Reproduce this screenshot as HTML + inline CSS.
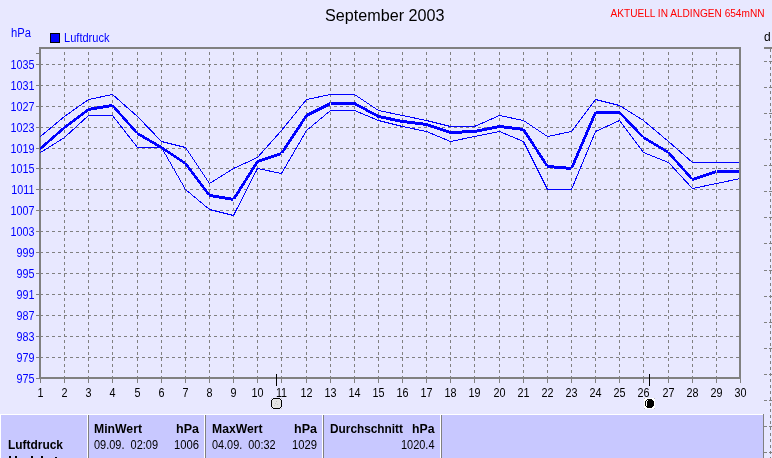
<!DOCTYPE html>
<html><head><meta charset="utf-8"><style>
html,body{margin:0;padding:0;background:#E8E8FF;width:772px;height:458px;overflow:hidden}
svg{position:absolute;left:0;top:0;will-change:transform}
text{font-family:"Liberation Sans",sans-serif}
</style></head><body>
<svg width="772" height="458" viewBox="0 0 772 458">
<g shape-rendering="crispEdges">
<line x1="40" y1="64.5" x2="739" y2="64.5" stroke="#808080" stroke-dasharray="3 3"/>
<line x1="40" y1="85.5" x2="739" y2="85.5" stroke="#808080" stroke-dasharray="3 3"/>
<line x1="40" y1="106.5" x2="739" y2="106.5" stroke="#808080" stroke-dasharray="3 3"/>
<line x1="40" y1="127.5" x2="739" y2="127.5" stroke="#808080" stroke-dasharray="3 3"/>
<line x1="40" y1="148.5" x2="739" y2="148.5" stroke="#808080" stroke-dasharray="3 3"/>
<line x1="40" y1="168.5" x2="739" y2="168.5" stroke="#808080" stroke-dasharray="3 3"/>
<line x1="40" y1="189.5" x2="739" y2="189.5" stroke="#808080" stroke-dasharray="3 3"/>
<line x1="40" y1="210.5" x2="739" y2="210.5" stroke="#808080" stroke-dasharray="3 3"/>
<line x1="40" y1="231.5" x2="739" y2="231.5" stroke="#808080" stroke-dasharray="3 3"/>
<line x1="40" y1="252.5" x2="739" y2="252.5" stroke="#808080" stroke-dasharray="3 3"/>
<line x1="40" y1="273.5" x2="739" y2="273.5" stroke="#808080" stroke-dasharray="3 3"/>
<line x1="40" y1="294.5" x2="739" y2="294.5" stroke="#808080" stroke-dasharray="3 3"/>
<line x1="40" y1="315.5" x2="739" y2="315.5" stroke="#808080" stroke-dasharray="3 3"/>
<line x1="40" y1="336.5" x2="739" y2="336.5" stroke="#808080" stroke-dasharray="3 3"/>
<line x1="40" y1="357.5" x2="739" y2="357.5" stroke="#808080" stroke-dasharray="3 3"/>
<line x1="64.5" y1="379" x2="64.5" y2="49" stroke="#808080" stroke-dasharray="3 3"/>
<line x1="88.5" y1="379" x2="88.5" y2="49" stroke="#808080" stroke-dasharray="3 3"/>
<line x1="112.5" y1="379" x2="112.5" y2="49" stroke="#808080" stroke-dasharray="3 3"/>
<line x1="137.5" y1="379" x2="137.5" y2="49" stroke="#808080" stroke-dasharray="3 3"/>
<line x1="161.5" y1="379" x2="161.5" y2="49" stroke="#808080" stroke-dasharray="3 3"/>
<line x1="185.5" y1="379" x2="185.5" y2="49" stroke="#808080" stroke-dasharray="3 3"/>
<line x1="209.5" y1="379" x2="209.5" y2="49" stroke="#808080" stroke-dasharray="3 3"/>
<line x1="233.5" y1="379" x2="233.5" y2="49" stroke="#808080" stroke-dasharray="3 3"/>
<line x1="257.5" y1="379" x2="257.5" y2="49" stroke="#808080" stroke-dasharray="3 3"/>
<line x1="281.5" y1="379" x2="281.5" y2="49" stroke="#808080" stroke-dasharray="3 3"/>
<line x1="306.5" y1="379" x2="306.5" y2="49" stroke="#808080" stroke-dasharray="3 3"/>
<line x1="330.5" y1="379" x2="330.5" y2="49" stroke="#808080" stroke-dasharray="3 3"/>
<line x1="354.5" y1="379" x2="354.5" y2="49" stroke="#808080" stroke-dasharray="3 3"/>
<line x1="378.5" y1="379" x2="378.5" y2="49" stroke="#808080" stroke-dasharray="3 3"/>
<line x1="402.5" y1="379" x2="402.5" y2="49" stroke="#808080" stroke-dasharray="3 3"/>
<line x1="426.5" y1="379" x2="426.5" y2="49" stroke="#808080" stroke-dasharray="3 3"/>
<line x1="450.5" y1="379" x2="450.5" y2="49" stroke="#808080" stroke-dasharray="3 3"/>
<line x1="474.5" y1="379" x2="474.5" y2="49" stroke="#808080" stroke-dasharray="3 3"/>
<line x1="499.5" y1="379" x2="499.5" y2="49" stroke="#808080" stroke-dasharray="3 3"/>
<line x1="523.5" y1="379" x2="523.5" y2="49" stroke="#808080" stroke-dasharray="3 3"/>
<line x1="547.5" y1="379" x2="547.5" y2="49" stroke="#808080" stroke-dasharray="3 3"/>
<line x1="571.5" y1="379" x2="571.5" y2="49" stroke="#808080" stroke-dasharray="3 3"/>
<line x1="595.5" y1="379" x2="595.5" y2="49" stroke="#808080" stroke-dasharray="3 3"/>
<line x1="619.5" y1="379" x2="619.5" y2="49" stroke="#808080" stroke-dasharray="3 3"/>
<line x1="643.5" y1="379" x2="643.5" y2="49" stroke="#808080" stroke-dasharray="3 3"/>
<line x1="668.5" y1="379" x2="668.5" y2="49" stroke="#808080" stroke-dasharray="3 3"/>
<line x1="692.5" y1="379" x2="692.5" y2="49" stroke="#808080" stroke-dasharray="3 3"/>
<line x1="716.5" y1="379" x2="716.5" y2="49" stroke="#808080" stroke-dasharray="3 3"/>
<rect x="36" y="64" width="3" height="1" fill="#808080"/>
<rect x="36" y="85" width="3" height="1" fill="#808080"/>
<rect x="36" y="106" width="3" height="1" fill="#808080"/>
<rect x="36" y="127" width="3" height="1" fill="#808080"/>
<rect x="36" y="148" width="3" height="1" fill="#808080"/>
<rect x="36" y="168" width="3" height="1" fill="#808080"/>
<rect x="36" y="189" width="3" height="1" fill="#808080"/>
<rect x="36" y="210" width="3" height="1" fill="#808080"/>
<rect x="36" y="231" width="3" height="1" fill="#808080"/>
<rect x="36" y="252" width="3" height="1" fill="#808080"/>
<rect x="36" y="273" width="3" height="1" fill="#808080"/>
<rect x="36" y="294" width="3" height="1" fill="#808080"/>
<rect x="36" y="315" width="3" height="1" fill="#808080"/>
<rect x="36" y="336" width="3" height="1" fill="#808080"/>
<rect x="36" y="357" width="3" height="1" fill="#808080"/>
<rect x="36" y="378" width="3" height="1" fill="#808080"/>
<rect x="36" y="53" width="3" height="1" fill="#808080"/>
<rect x="40" y="379" width="1" height="4" fill="#808080"/>
<rect x="64" y="379" width="1" height="4" fill="#808080"/>
<rect x="88" y="379" width="1" height="4" fill="#808080"/>
<rect x="112" y="379" width="1" height="4" fill="#808080"/>
<rect x="137" y="379" width="1" height="4" fill="#808080"/>
<rect x="161" y="379" width="1" height="4" fill="#808080"/>
<rect x="185" y="379" width="1" height="4" fill="#808080"/>
<rect x="209" y="379" width="1" height="4" fill="#808080"/>
<rect x="233" y="379" width="1" height="4" fill="#808080"/>
<rect x="257" y="379" width="1" height="4" fill="#808080"/>
<rect x="281" y="379" width="1" height="4" fill="#808080"/>
<rect x="306" y="379" width="1" height="4" fill="#808080"/>
<rect x="330" y="379" width="1" height="4" fill="#808080"/>
<rect x="354" y="379" width="1" height="4" fill="#808080"/>
<rect x="378" y="379" width="1" height="4" fill="#808080"/>
<rect x="402" y="379" width="1" height="4" fill="#808080"/>
<rect x="426" y="379" width="1" height="4" fill="#808080"/>
<rect x="450" y="379" width="1" height="4" fill="#808080"/>
<rect x="474" y="379" width="1" height="4" fill="#808080"/>
<rect x="499" y="379" width="1" height="4" fill="#808080"/>
<rect x="523" y="379" width="1" height="4" fill="#808080"/>
<rect x="547" y="379" width="1" height="4" fill="#808080"/>
<rect x="571" y="379" width="1" height="4" fill="#808080"/>
<rect x="595" y="379" width="1" height="4" fill="#808080"/>
<rect x="619" y="379" width="1" height="4" fill="#808080"/>
<rect x="643" y="379" width="1" height="4" fill="#808080"/>
<rect x="668" y="379" width="1" height="4" fill="#808080"/>
<rect x="692" y="379" width="1" height="4" fill="#808080"/>
<rect x="716" y="379" width="1" height="4" fill="#808080"/>
<rect x="740" y="379" width="1" height="4" fill="#808080"/>
<rect x="39" y="47" width="702" height="2" fill="#808080"/>
<rect x="39" y="47" width="2" height="332" fill="#808080"/>
<rect x="739" y="47" width="2" height="332" fill="#808080"/>
<rect x="39" y="377" width="702" height="2" fill="#808080"/>
<polyline points="40.5,136.5 64.5,116.5 88.5,99.5 112.5,94.5 137.5,116.5 161.5,141.5 185.5,147.5 209.5,183.5 233.5,168.5 257.5,157.5 281.5,130.5 306.5,99.5 330.5,94.5 354.5,94.5 378.5,110.5 402.5,115.5 426.5,120.5 450.5,126.5 474.5,126.5 499.5,115.5 523.5,120.5 547.5,136.5 571.5,131.5 595.5,99.5 619.5,105.5 643.5,120.5 668.5,141.5 692.5,162.5 716.5,162.5 740.5,162.5" fill="none" stroke="#0000FF" stroke-width="1"/>
<polyline points="40.5,152.5 64.5,137.5 88.5,115.5 112.5,115.5 137.5,147.5 161.5,147.5 185.5,189.5 209.5,209.5 233.5,215.5 257.5,168.5 281.5,173.5 306.5,130.5 330.5,110.5 354.5,110.5 378.5,120.5 402.5,126.5 426.5,131.5 450.5,141.5 474.5,136.5 499.5,131.5 523.5,141.5 547.5,189.5 571.5,189.5 595.5,131.5 619.5,120.5 643.5,152.5 668.5,162.5 692.5,188.5 716.5,183.5 740.5,178.5" fill="none" stroke="#0000FF" stroke-width="1"/>
<line x1="40.5" y1="147.5" x2="64.5" y2="126.5" stroke="#0000FF" stroke-width="1"/>
<line x1="40.5" y1="148.5" x2="64.5" y2="127.5" stroke="#0000FF" stroke-width="1"/>
<line x1="40.5" y1="149.5" x2="64.5" y2="128.5" stroke="#0000FF" stroke-width="1"/>
<line x1="64.5" y1="126.5" x2="88.5" y2="108.5" stroke="#0000FF" stroke-width="1"/>
<line x1="64.5" y1="127.5" x2="88.5" y2="109.5" stroke="#0000FF" stroke-width="1"/>
<line x1="64.5" y1="128.5" x2="88.5" y2="110.5" stroke="#0000FF" stroke-width="1"/>
<line x1="88.5" y1="108.5" x2="112.5" y2="104.5" stroke="#0000FF" stroke-width="1"/>
<line x1="88.5" y1="109.5" x2="112.5" y2="105.5" stroke="#0000FF" stroke-width="1"/>
<line x1="88.5" y1="110.5" x2="112.5" y2="106.5" stroke="#0000FF" stroke-width="1"/>
<line x1="111.5" y1="105.5" x2="136.5" y2="133.5" stroke="#0000FF" stroke-width="1"/>
<line x1="112.5" y1="105.5" x2="137.5" y2="133.5" stroke="#0000FF" stroke-width="1"/>
<line x1="113.5" y1="105.5" x2="138.5" y2="133.5" stroke="#0000FF" stroke-width="1"/>
<line x1="137.5" y1="132.5" x2="161.5" y2="146.5" stroke="#0000FF" stroke-width="1"/>
<line x1="137.5" y1="133.5" x2="161.5" y2="147.5" stroke="#0000FF" stroke-width="1"/>
<line x1="137.5" y1="134.5" x2="161.5" y2="148.5" stroke="#0000FF" stroke-width="1"/>
<line x1="161.5" y1="146.5" x2="185.5" y2="162.5" stroke="#0000FF" stroke-width="1"/>
<line x1="161.5" y1="147.5" x2="185.5" y2="163.5" stroke="#0000FF" stroke-width="1"/>
<line x1="161.5" y1="148.5" x2="185.5" y2="164.5" stroke="#0000FF" stroke-width="1"/>
<line x1="184.5" y1="163.5" x2="208.5" y2="195.5" stroke="#0000FF" stroke-width="1"/>
<line x1="185.5" y1="163.5" x2="209.5" y2="195.5" stroke="#0000FF" stroke-width="1"/>
<line x1="186.5" y1="163.5" x2="210.5" y2="195.5" stroke="#0000FF" stroke-width="1"/>
<line x1="209.5" y1="194.5" x2="233.5" y2="198.5" stroke="#0000FF" stroke-width="1"/>
<line x1="209.5" y1="195.5" x2="233.5" y2="199.5" stroke="#0000FF" stroke-width="1"/>
<line x1="209.5" y1="196.5" x2="233.5" y2="200.5" stroke="#0000FF" stroke-width="1"/>
<line x1="232.5" y1="199.5" x2="256.5" y2="161.5" stroke="#0000FF" stroke-width="1"/>
<line x1="233.5" y1="199.5" x2="257.5" y2="161.5" stroke="#0000FF" stroke-width="1"/>
<line x1="234.5" y1="199.5" x2="258.5" y2="161.5" stroke="#0000FF" stroke-width="1"/>
<line x1="257.5" y1="160.5" x2="281.5" y2="152.5" stroke="#0000FF" stroke-width="1"/>
<line x1="257.5" y1="161.5" x2="281.5" y2="153.5" stroke="#0000FF" stroke-width="1"/>
<line x1="257.5" y1="162.5" x2="281.5" y2="154.5" stroke="#0000FF" stroke-width="1"/>
<line x1="280.5" y1="153.5" x2="305.5" y2="115.5" stroke="#0000FF" stroke-width="1"/>
<line x1="281.5" y1="153.5" x2="306.5" y2="115.5" stroke="#0000FF" stroke-width="1"/>
<line x1="282.5" y1="153.5" x2="307.5" y2="115.5" stroke="#0000FF" stroke-width="1"/>
<line x1="306.5" y1="114.5" x2="330.5" y2="102.5" stroke="#0000FF" stroke-width="1"/>
<line x1="306.5" y1="115.5" x2="330.5" y2="103.5" stroke="#0000FF" stroke-width="1"/>
<line x1="306.5" y1="116.5" x2="330.5" y2="104.5" stroke="#0000FF" stroke-width="1"/>
<line x1="330.5" y1="102.5" x2="354.5" y2="102.5" stroke="#0000FF" stroke-width="1"/>
<line x1="330.5" y1="103.5" x2="354.5" y2="103.5" stroke="#0000FF" stroke-width="1"/>
<line x1="330.5" y1="104.5" x2="354.5" y2="104.5" stroke="#0000FF" stroke-width="1"/>
<line x1="354.5" y1="102.5" x2="378.5" y2="115.5" stroke="#0000FF" stroke-width="1"/>
<line x1="354.5" y1="103.5" x2="378.5" y2="116.5" stroke="#0000FF" stroke-width="1"/>
<line x1="354.5" y1="104.5" x2="378.5" y2="117.5" stroke="#0000FF" stroke-width="1"/>
<line x1="378.5" y1="115.5" x2="402.5" y2="120.5" stroke="#0000FF" stroke-width="1"/>
<line x1="378.5" y1="116.5" x2="402.5" y2="121.5" stroke="#0000FF" stroke-width="1"/>
<line x1="378.5" y1="117.5" x2="402.5" y2="122.5" stroke="#0000FF" stroke-width="1"/>
<line x1="402.5" y1="120.5" x2="426.5" y2="123.5" stroke="#0000FF" stroke-width="1"/>
<line x1="402.5" y1="121.5" x2="426.5" y2="124.5" stroke="#0000FF" stroke-width="1"/>
<line x1="402.5" y1="122.5" x2="426.5" y2="125.5" stroke="#0000FF" stroke-width="1"/>
<line x1="426.5" y1="123.5" x2="450.5" y2="131.5" stroke="#0000FF" stroke-width="1"/>
<line x1="426.5" y1="124.5" x2="450.5" y2="132.5" stroke="#0000FF" stroke-width="1"/>
<line x1="426.5" y1="125.5" x2="450.5" y2="133.5" stroke="#0000FF" stroke-width="1"/>
<line x1="450.5" y1="131.5" x2="474.5" y2="130.5" stroke="#0000FF" stroke-width="1"/>
<line x1="450.5" y1="132.5" x2="474.5" y2="131.5" stroke="#0000FF" stroke-width="1"/>
<line x1="450.5" y1="133.5" x2="474.5" y2="132.5" stroke="#0000FF" stroke-width="1"/>
<line x1="474.5" y1="130.5" x2="499.5" y2="125.5" stroke="#0000FF" stroke-width="1"/>
<line x1="474.5" y1="131.5" x2="499.5" y2="126.5" stroke="#0000FF" stroke-width="1"/>
<line x1="474.5" y1="132.5" x2="499.5" y2="127.5" stroke="#0000FF" stroke-width="1"/>
<line x1="499.5" y1="125.5" x2="523.5" y2="128.5" stroke="#0000FF" stroke-width="1"/>
<line x1="499.5" y1="126.5" x2="523.5" y2="129.5" stroke="#0000FF" stroke-width="1"/>
<line x1="499.5" y1="127.5" x2="523.5" y2="130.5" stroke="#0000FF" stroke-width="1"/>
<line x1="522.5" y1="129.5" x2="546.5" y2="166.5" stroke="#0000FF" stroke-width="1"/>
<line x1="523.5" y1="129.5" x2="547.5" y2="166.5" stroke="#0000FF" stroke-width="1"/>
<line x1="524.5" y1="129.5" x2="548.5" y2="166.5" stroke="#0000FF" stroke-width="1"/>
<line x1="547.5" y1="165.5" x2="571.5" y2="167.5" stroke="#0000FF" stroke-width="1"/>
<line x1="547.5" y1="166.5" x2="571.5" y2="168.5" stroke="#0000FF" stroke-width="1"/>
<line x1="547.5" y1="167.5" x2="571.5" y2="169.5" stroke="#0000FF" stroke-width="1"/>
<line x1="570.5" y1="168.5" x2="594.5" y2="112.5" stroke="#0000FF" stroke-width="1"/>
<line x1="571.5" y1="168.5" x2="595.5" y2="112.5" stroke="#0000FF" stroke-width="1"/>
<line x1="572.5" y1="168.5" x2="596.5" y2="112.5" stroke="#0000FF" stroke-width="1"/>
<line x1="595.5" y1="111.5" x2="619.5" y2="111.5" stroke="#0000FF" stroke-width="1"/>
<line x1="595.5" y1="112.5" x2="619.5" y2="112.5" stroke="#0000FF" stroke-width="1"/>
<line x1="595.5" y1="113.5" x2="619.5" y2="113.5" stroke="#0000FF" stroke-width="1"/>
<line x1="618.5" y1="112.5" x2="642.5" y2="137.5" stroke="#0000FF" stroke-width="1"/>
<line x1="619.5" y1="112.5" x2="643.5" y2="137.5" stroke="#0000FF" stroke-width="1"/>
<line x1="620.5" y1="112.5" x2="644.5" y2="137.5" stroke="#0000FF" stroke-width="1"/>
<line x1="643.5" y1="136.5" x2="668.5" y2="151.5" stroke="#0000FF" stroke-width="1"/>
<line x1="643.5" y1="137.5" x2="668.5" y2="152.5" stroke="#0000FF" stroke-width="1"/>
<line x1="643.5" y1="138.5" x2="668.5" y2="153.5" stroke="#0000FF" stroke-width="1"/>
<line x1="667.5" y1="152.5" x2="691.5" y2="179.5" stroke="#0000FF" stroke-width="1"/>
<line x1="668.5" y1="152.5" x2="692.5" y2="179.5" stroke="#0000FF" stroke-width="1"/>
<line x1="669.5" y1="152.5" x2="693.5" y2="179.5" stroke="#0000FF" stroke-width="1"/>
<line x1="692.5" y1="178.5" x2="716.5" y2="170.5" stroke="#0000FF" stroke-width="1"/>
<line x1="692.5" y1="179.5" x2="716.5" y2="171.5" stroke="#0000FF" stroke-width="1"/>
<line x1="692.5" y1="180.5" x2="716.5" y2="172.5" stroke="#0000FF" stroke-width="1"/>
<line x1="716.5" y1="170.5" x2="740.5" y2="170.5" stroke="#0000FF" stroke-width="1"/>
<line x1="716.5" y1="171.5" x2="740.5" y2="171.5" stroke="#0000FF" stroke-width="1"/>
<line x1="716.5" y1="172.5" x2="740.5" y2="172.5" stroke="#0000FF" stroke-width="1"/>
<rect x="739" y="47" width="2" height="332" fill="#808080"/>
</g>
<text x="325" y="21" font-size="16" fill="#000" textLength="119.5" lengthAdjust="spacingAndGlyphs">September 2003</text>
<text x="610.5" y="17" font-size="11.3" fill="#FF0000" textLength="154" lengthAdjust="spacingAndGlyphs">AKTUELL IN ALDINGEN 654mNN</text>
<text x="11" y="37" font-size="12.5" fill="#0000FF" textLength="20" lengthAdjust="spacingAndGlyphs">hPa</text>
<rect x="50.5" y="33.5" width="9" height="9" fill="#0000FF" stroke="#000" stroke-width="1"/>
<text x="64" y="42" font-size="12.5" fill="#0000FF" textLength="45.5" lengthAdjust="spacingAndGlyphs">Luftdruck</text>
<text x="764" y="41" font-size="12" fill="#000">d</text>
<text x="34.5" y="69" text-anchor="end" fill="#0000FF" font-size="12" transform="translate(34.5 0) scale(0.9 1) translate(-34.5 0)">1035</text>
<text x="34.5" y="90" text-anchor="end" fill="#0000FF" font-size="12" transform="translate(34.5 0) scale(0.9 1) translate(-34.5 0)">1031</text>
<text x="34.5" y="111" text-anchor="end" fill="#0000FF" font-size="12" transform="translate(34.5 0) scale(0.9 1) translate(-34.5 0)">1027</text>
<text x="34.5" y="132" text-anchor="end" fill="#0000FF" font-size="12" transform="translate(34.5 0) scale(0.9 1) translate(-34.5 0)">1023</text>
<text x="34.5" y="153" text-anchor="end" fill="#0000FF" font-size="12" transform="translate(34.5 0) scale(0.9 1) translate(-34.5 0)">1019</text>
<text x="34.5" y="173" text-anchor="end" fill="#0000FF" font-size="12" transform="translate(34.5 0) scale(0.9 1) translate(-34.5 0)">1015</text>
<text x="34.5" y="194" text-anchor="end" fill="#0000FF" font-size="12" transform="translate(34.5 0) scale(0.9 1) translate(-34.5 0)">1011</text>
<text x="34.5" y="215" text-anchor="end" fill="#0000FF" font-size="12" transform="translate(34.5 0) scale(0.9 1) translate(-34.5 0)">1007</text>
<text x="34.5" y="236" text-anchor="end" fill="#0000FF" font-size="12" transform="translate(34.5 0) scale(0.9 1) translate(-34.5 0)">1003</text>
<text x="34.5" y="257" text-anchor="end" fill="#0000FF" font-size="12" transform="translate(34.5 0) scale(0.9 1) translate(-34.5 0)">999</text>
<text x="34.5" y="278" text-anchor="end" fill="#0000FF" font-size="12" transform="translate(34.5 0) scale(0.9 1) translate(-34.5 0)">995</text>
<text x="34.5" y="299" text-anchor="end" fill="#0000FF" font-size="12" transform="translate(34.5 0) scale(0.9 1) translate(-34.5 0)">991</text>
<text x="34.5" y="320" text-anchor="end" fill="#0000FF" font-size="12" transform="translate(34.5 0) scale(0.9 1) translate(-34.5 0)">987</text>
<text x="34.5" y="341" text-anchor="end" fill="#0000FF" font-size="12" transform="translate(34.5 0) scale(0.9 1) translate(-34.5 0)">983</text>
<text x="34.5" y="362" text-anchor="end" fill="#0000FF" font-size="12" transform="translate(34.5 0) scale(0.9 1) translate(-34.5 0)">979</text>
<text x="34.5" y="383" text-anchor="end" fill="#0000FF" font-size="12" transform="translate(34.5 0) scale(0.9 1) translate(-34.5 0)">975</text>
<text x="40.5" y="397" text-anchor="middle" fill="#000" font-size="12" transform="translate(40.5 0) scale(0.9 1) translate(-40.5 0)">1</text>
<text x="64.5" y="397" text-anchor="middle" fill="#000" font-size="12" transform="translate(64.5 0) scale(0.9 1) translate(-64.5 0)">2</text>
<text x="88.5" y="397" text-anchor="middle" fill="#000" font-size="12" transform="translate(88.5 0) scale(0.9 1) translate(-88.5 0)">3</text>
<text x="112.5" y="397" text-anchor="middle" fill="#000" font-size="12" transform="translate(112.5 0) scale(0.9 1) translate(-112.5 0)">4</text>
<text x="137.5" y="397" text-anchor="middle" fill="#000" font-size="12" transform="translate(137.5 0) scale(0.9 1) translate(-137.5 0)">5</text>
<text x="161.5" y="397" text-anchor="middle" fill="#000" font-size="12" transform="translate(161.5 0) scale(0.9 1) translate(-161.5 0)">6</text>
<text x="185.5" y="397" text-anchor="middle" fill="#000" font-size="12" transform="translate(185.5 0) scale(0.9 1) translate(-185.5 0)">7</text>
<text x="209.5" y="397" text-anchor="middle" fill="#000" font-size="12" transform="translate(209.5 0) scale(0.9 1) translate(-209.5 0)">8</text>
<text x="233.5" y="397" text-anchor="middle" fill="#000" font-size="12" transform="translate(233.5 0) scale(0.9 1) translate(-233.5 0)">9</text>
<text x="257.5" y="397" text-anchor="middle" fill="#000" font-size="12" transform="translate(257.5 0) scale(0.9 1) translate(-257.5 0)">10</text>
<text x="281.5" y="397" text-anchor="middle" fill="#000" font-size="12" transform="translate(281.5 0) scale(0.9 1) translate(-281.5 0)">11</text>
<text x="306.5" y="397" text-anchor="middle" fill="#000" font-size="12" transform="translate(306.5 0) scale(0.9 1) translate(-306.5 0)">12</text>
<text x="330.5" y="397" text-anchor="middle" fill="#000" font-size="12" transform="translate(330.5 0) scale(0.9 1) translate(-330.5 0)">13</text>
<text x="354.5" y="397" text-anchor="middle" fill="#000" font-size="12" transform="translate(354.5 0) scale(0.9 1) translate(-354.5 0)">14</text>
<text x="378.5" y="397" text-anchor="middle" fill="#000" font-size="12" transform="translate(378.5 0) scale(0.9 1) translate(-378.5 0)">15</text>
<text x="402.5" y="397" text-anchor="middle" fill="#000" font-size="12" transform="translate(402.5 0) scale(0.9 1) translate(-402.5 0)">16</text>
<text x="426.5" y="397" text-anchor="middle" fill="#000" font-size="12" transform="translate(426.5 0) scale(0.9 1) translate(-426.5 0)">17</text>
<text x="450.5" y="397" text-anchor="middle" fill="#000" font-size="12" transform="translate(450.5 0) scale(0.9 1) translate(-450.5 0)">18</text>
<text x="474.5" y="397" text-anchor="middle" fill="#000" font-size="12" transform="translate(474.5 0) scale(0.9 1) translate(-474.5 0)">19</text>
<text x="499.5" y="397" text-anchor="middle" fill="#000" font-size="12" transform="translate(499.5 0) scale(0.9 1) translate(-499.5 0)">20</text>
<text x="523.5" y="397" text-anchor="middle" fill="#000" font-size="12" transform="translate(523.5 0) scale(0.9 1) translate(-523.5 0)">21</text>
<text x="547.5" y="397" text-anchor="middle" fill="#000" font-size="12" transform="translate(547.5 0) scale(0.9 1) translate(-547.5 0)">22</text>
<text x="571.5" y="397" text-anchor="middle" fill="#000" font-size="12" transform="translate(571.5 0) scale(0.9 1) translate(-571.5 0)">23</text>
<text x="595.5" y="397" text-anchor="middle" fill="#000" font-size="12" transform="translate(595.5 0) scale(0.9 1) translate(-595.5 0)">24</text>
<text x="619.5" y="397" text-anchor="middle" fill="#000" font-size="12" transform="translate(619.5 0) scale(0.9 1) translate(-619.5 0)">25</text>
<text x="643.5" y="397" text-anchor="middle" fill="#000" font-size="12" transform="translate(643.5 0) scale(0.9 1) translate(-643.5 0)">26</text>
<text x="668.5" y="397" text-anchor="middle" fill="#000" font-size="12" transform="translate(668.5 0) scale(0.9 1) translate(-668.5 0)">27</text>
<text x="692.5" y="397" text-anchor="middle" fill="#000" font-size="12" transform="translate(692.5 0) scale(0.9 1) translate(-692.5 0)">28</text>
<text x="716.5" y="397" text-anchor="middle" fill="#000" font-size="12" transform="translate(716.5 0) scale(0.9 1) translate(-716.5 0)">29</text>
<text x="740.5" y="397" text-anchor="middle" fill="#000" font-size="12" transform="translate(740.5 0) scale(0.9 1) translate(-740.5 0)">30</text>

<g shape-rendering="crispEdges">
<rect x="0" y="414" width="763" height="1" fill="#FFFFFF"/>
<rect x="0" y="414" width="1" height="44" fill="#FFFFFF"/>
<rect x="763" y="414" width="1" height="44" fill="#808080"/>
<rect x="1" y="415" width="762" height="43" fill="#C8C8FF"/>
<rect x="87" y="415" width="1" height="43" fill="#FFFFFF"/><rect x="88" y="415" width="1" height="43" fill="#808080"/>
<rect x="204" y="415" width="1" height="43" fill="#FFFFFF"/><rect x="205" y="415" width="1" height="43" fill="#808080"/>
<rect x="322" y="415" width="1" height="43" fill="#FFFFFF"/><rect x="323" y="415" width="1" height="43" fill="#808080"/>
<rect x="440" y="415" width="1" height="43" fill="#FFFFFF"/><rect x="441" y="415" width="1" height="43" fill="#808080"/>
<rect x="9" y="456" width="2" height="2" fill="#000"/><rect x="15" y="456" width="2" height="2" fill="#000"/>
<rect x="31" y="456" width="2" height="2" fill="#000"/><rect x="41" y="456" width="2" height="2" fill="#000"/>
<rect x="55" y="457" width="2" height="1" fill="#000"/>
</g>
<g font-size="12" fill="#000">
<text x="8" y="449" font-weight="bold" textLength="55" lengthAdjust="spacingAndGlyphs">Luftdruck</text>
<text x="94" y="433" font-weight="bold" textLength="48" lengthAdjust="spacingAndGlyphs">MinWert</text>
<text x="176" y="433" font-weight="bold" textLength="23" lengthAdjust="spacingAndGlyphs">hPa</text>
<text x="94" y="449" textLength="64" lengthAdjust="spacingAndGlyphs" xml:space="preserve">09.09.  02:09</text>
<text x="174" y="449" textLength="25" lengthAdjust="spacingAndGlyphs">1006</text>
<text x="212" y="433" font-weight="bold" textLength="50.5" lengthAdjust="spacingAndGlyphs">MaxWert</text>
<text x="294" y="433" font-weight="bold" textLength="23" lengthAdjust="spacingAndGlyphs">hPa</text>
<text x="212" y="449" textLength="63.5" lengthAdjust="spacingAndGlyphs" xml:space="preserve">04.09.  00:32</text>
<text x="292" y="449" textLength="25" lengthAdjust="spacingAndGlyphs">1029</text>
<text x="330" y="433" font-weight="bold" textLength="73" lengthAdjust="spacingAndGlyphs">Durchschnitt</text>
<text x="412" y="433" font-weight="bold" textLength="22.5" lengthAdjust="spacingAndGlyphs">hPa</text>
<text x="401" y="449" textLength="33.5" lengthAdjust="spacingAndGlyphs">1020.4</text>
</g>
<g shape-rendering="crispEdges">
<rect x="276" y="374" width="1" height="12" fill="#000"/>
<rect x="649" y="374" width="1" height="12" fill="#000"/>
</g>
<g shape-rendering="crispEdges"><rect x="271" y="398" width="1" height="1" fill="#C8C8C8"/><rect x="281" y="398" width="1" height="1" fill="#C8C8C8"/><rect x="271" y="408" width="1" height="1" fill="#C8C8C8"/><rect x="281" y="408" width="1" height="1" fill="#C8C8C8"/><rect x="273" y="399" width="7" height="9" fill="#E4E4E4"/><rect x="272" y="400" width="9" height="7" fill="#E4E4E4"/><rect x="276" y="401" width="1" height="1" fill="#C0C0C0"/><rect x="275" y="403" width="1" height="1" fill="#C8C8C8"/><rect x="277" y="404" width="1" height="1" fill="#C8C8C8"/><rect x="274" y="405" width="1" height="1" fill="#D0D0D0"/><rect x="273" y="398" width="7" height="1" fill="#000"/><rect x="273" y="408" width="7" height="1" fill="#000"/><rect x="271" y="400" width="1" height="7" fill="#000"/><rect x="281" y="400" width="1" height="7" fill="#000"/><rect x="272" y="399" width="1" height="1" fill="#000"/><rect x="280" y="399" width="1" height="1" fill="#000"/><rect x="272" y="407" width="1" height="1" fill="#000"/><rect x="280" y="407" width="1" height="1" fill="#000"/><rect x="645" y="398" width="9" height="11" fill="#FFFFFF"/><rect x="644" y="399" width="11" height="9" fill="#FFFFFF"/><rect x="644" y="398" width="1" height="1" fill="#C0C0C0"/><rect x="654" y="398" width="1" height="1" fill="#C0C0C0"/><rect x="644" y="408" width="1" height="1" fill="#C0C0C0"/><rect x="654" y="408" width="1" height="1" fill="#C0C0C0"/><rect x="647" y="399" width="5" height="9" fill="#000"/><rect x="646" y="400" width="7" height="7" fill="#000"/><rect x="645" y="401" width="9" height="5" fill="#000"/><rect x="646" y="401" width="1" height="5" fill="#FFFFFF"/><rect x="647" y="400" width="1" height="1" fill="#FFFFFF"/></g>
<g shape-rendering="crispEdges">
<rect x="764" y="47" width="8" height="2" fill="#808080"/>
<rect x="764" y="61" width="3" height="1" fill="#808080"/>
<rect x="769" y="61" width="3" height="1" fill="#808080"/>
<rect x="764" y="87" width="3" height="1" fill="#808080"/>
<rect x="769" y="87" width="3" height="1" fill="#808080"/>
<rect x="764" y="113" width="3" height="1" fill="#808080"/>
<rect x="769" y="113" width="3" height="1" fill="#808080"/>
<rect x="764" y="139" width="3" height="1" fill="#808080"/>
<rect x="769" y="139" width="3" height="1" fill="#808080"/>
<rect x="764" y="165" width="3" height="1" fill="#808080"/>
<rect x="769" y="165" width="3" height="1" fill="#808080"/>
<rect x="764" y="191" width="3" height="1" fill="#808080"/>
<rect x="769" y="191" width="3" height="1" fill="#808080"/>
<rect x="764" y="217" width="3" height="1" fill="#808080"/>
<rect x="769" y="217" width="3" height="1" fill="#808080"/>
<rect x="764" y="243" width="3" height="1" fill="#808080"/>
<rect x="769" y="243" width="3" height="1" fill="#808080"/>
<rect x="764" y="270" width="3" height="1" fill="#808080"/>
<rect x="769" y="270" width="3" height="1" fill="#808080"/>
<rect x="764" y="296" width="3" height="1" fill="#808080"/>
<rect x="769" y="296" width="3" height="1" fill="#808080"/>
<rect x="764" y="322" width="3" height="1" fill="#808080"/>
<rect x="769" y="322" width="3" height="1" fill="#808080"/>
<rect x="764" y="348" width="3" height="1" fill="#808080"/>
<rect x="769" y="348" width="3" height="1" fill="#808080"/>
<rect x="764" y="374" width="3" height="1" fill="#808080"/>
<rect x="769" y="374" width="3" height="1" fill="#808080"/>
<rect x="764" y="400" width="3" height="1" fill="#808080"/>
<rect x="769" y="400" width="3" height="1" fill="#808080"/>
<rect x="764" y="426" width="3" height="1" fill="#808080"/>
<rect x="769" y="426" width="3" height="1" fill="#808080"/>
<rect x="764" y="452" width="3" height="1" fill="#808080"/>
<rect x="769" y="452" width="3" height="1" fill="#808080"/>
<line x1="770.5" y1="49" x2="770.5" y2="458" stroke="#808080" stroke-dasharray="3 3"/>
</g>

</svg>
</body></html>
